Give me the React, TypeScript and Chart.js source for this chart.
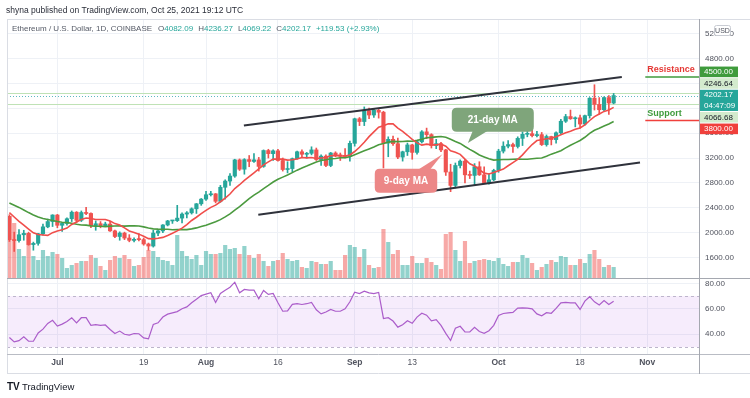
import React, { useEffect, useRef } from 'react';
import { Chart, registerables } from 'chart.js';

Chart.register(...registerables);

// ---------------- data (day 0 = 1 Jul 2021, first candle = 21 Jun 2021) ----------------
const FIRST_DAY = -10;

const OPEN = [
  2263, 1889, 1875, 1968, 1990, 1810, 1830, 1985, 2095, 2180,
  2285, 2120, 2150, 2225, 2330, 2200, 2325, 2310, 2115, 2145, 2115, 2140, 2030, 1940, 1995, 1915, 1878, 1895, 1890, 1820, 1787, 1995, 2030, 2125, 2190, 2195, 2235, 2300, 2320, 2385, 2465,
  2540, 2610, 2625, 2505, 2730, 2830, 2910, 3170, 3020, 3175, 3145, 3170, 3065, 3320, 3270, 3315, 3160, 3015, 3030, 3190, 3300, 3260, 3275, 3330, 3175, 3230, 3080, 3280, 3250, 3230, 3225,
  3435, 3830, 3785, 3960, 3890, 3965, 3935, 3440, 3500, 3430, 3215, 3300, 3410, 3290, 3460, 3620, 3575, 3400, 3430, 3330, 2975, 2760, 3080, 3150, 2930, 2920, 3060, 2930, 2805, 2850,
  3000, 3310, 3390, 3415, 3385, 3515, 3580, 3590, 3560, 3575, 3415, 3545, 3495, 3605, 3790, 3865, 3830, 3845, 3745, 3880, 4160, 4060, 3975, 4170, 4082.09,
];
const HIGH = [
  2290, 2010, 2050, 2040, 2010, 1850, 1990, 2140, 2220, 2290,
  2295, 2160, 2240, 2350, 2340, 2350, 2410, 2320, 2190, 2180, 2170, 2185, 2045, 2015, 2010, 1970, 1920, 1985, 1915, 1835, 2040, 2045, 2130, 2200, 2200, 2440, 2320, 2340, 2400, 2470, 2550,
  2665, 2665, 2630, 2760, 2850, 2950, 3180, 3185, 3190, 3240, 3270, 3210, 3330, 3340, 3330, 3340, 3200, 3140, 3200, 3310, 3330, 3290, 3380, 3360, 3250, 3250, 3290, 3300, 3280, 3350, 3470,
  3840, 3850, 4020, 4000, 3990, 3980, 3950, 3540, 3550, 3520, 3310, 3440, 3420, 3480, 3640, 3680, 3590, 3500, 3450, 3340, 3100, 3120, 3170, 3180, 2990, 3110, 3140, 3060, 2950, 3020,
  3340, 3460, 3480, 3440, 3540, 3620, 3640, 3670, 3630, 3610, 3570, 3550, 3620, 3820, 3900, 3970, 3860, 3890, 3890, 4170, 4376, 4170, 4180, 4200, 4236.27,
];
const LOW = [
  1860, 1700, 1850, 1880, 1800, 1720, 1800, 1960, 2080, 2100,
  2080, 2020, 2120, 2180, 2160, 2180, 2290, 2080, 2040, 2080, 2100, 2020, 1920, 1880, 1890, 1855, 1855, 1870, 1800, 1720, 1770, 1955, 2000, 2110, 2150, 2180, 2160, 2240, 2300, 2310, 2440,
  2520, 2590, 2480, 2490, 2540, 2760, 2890, 3000, 2940, 3060, 3130, 2990, 3050, 3200, 3160, 3150, 2990, 2960, 2980, 3180, 3220, 3200, 3250, 3160, 3080, 3060, 3060, 3220, 3160, 3200, 3150,
  3390, 3720, 3720, 3830, 3850, 3840, 3040, 3220, 3400, 3190, 3150, 3240, 3180, 3260, 3440, 3510, 3360, 3350, 3300, 2920, 2660, 2720, 3040, 2800, 2870, 2760, 2920, 2790, 2780, 2835,
  2970, 3280, 3360, 3290, 3360, 3400, 3540, 3540, 3540, 3400, 3390, 3410, 3440, 3590, 3770, 3820, 3700, 3680, 3725, 3840, 3970, 3900, 3950, 3900, 4069.22,
];
const CLOSE = [
  1889, 1875, 1968, 1990, 1810, 1830, 1985, 2095, 2180, 2285,
  2120, 2150, 2225, 2330, 2200, 2325, 2310, 2115, 2145, 2115, 2140, 2030, 1940, 1995, 1915, 1878, 1895, 1890, 1820, 1787, 1995, 2030, 2125, 2190, 2195, 2235, 2300, 2320, 2385, 2465, 2540,
  2610, 2625, 2505, 2730, 2830, 2910, 3170, 3020, 3175, 3145, 3170, 3065, 3320, 3270, 3315, 3160, 3015, 3030, 3190, 3300, 3260, 3275, 3330, 3175, 3230, 3080, 3280, 3250, 3230, 3225, 3435,
  3830, 3785, 3960, 3890, 3965, 3935, 3440, 3500, 3430, 3215, 3300, 3410, 3290, 3460, 3620, 3575, 3400, 3430, 3330, 2975, 2760, 3080, 3150, 2930, 2920, 3060, 2930, 2805, 2850, 3000,
  3310, 3390, 3415, 3385, 3515, 3580, 3590, 3560, 3575, 3415, 3545, 3495, 3605, 3790, 3865, 3830, 3845, 3745, 3880, 4160, 4060, 3975, 4170, 4082.64, 4202.17,
];
// volume, thousand ETH
const VOLUME = [
  620, 550, 290, 220, 450, 220, 180, 280, 220, 260,
  240, 200, 100, 130, 150, 170, 170, 230, 200, 120, 80, 180, 220, 200, 230, 190, 120, 130, 210, 280, 270, 210, 180, 170, 130, 430, 270, 220, 190, 230, 130,
  270, 240, 240, 250, 330, 290, 300, 240, 320, 230, 200, 240, 170, 120, 170, 180, 250, 190, 170, 180, 110, 100, 170, 160, 140, 140, 170, 80, 80, 230, 330,
  310, 210, 290, 130, 100, 110, 490, 360, 240, 280, 130, 130, 220, 150, 150, 200, 160, 130, 90, 440, 460, 280, 170, 370, 150, 170, 180, 190, 180, 170,
  200, 140, 120, 160, 160, 230, 200, 150, 80, 110, 140, 180, 160, 220, 210, 130, 130, 190, 150, 240, 280, 190, 110, 130, 110,
];
const MA9 = [
  2323, 2253, 2184, 2122, 2060, 2000, 1972, 1965, 1958, 2002,
  2029, 2049, 2076, 2133, 2174, 2212, 2236, 2229, 2213, 2213, 2212, 2190, 2147, 2124, 2078, 2030, 2006, 1978, 1945, 1906, 1902, 1912, 1926, 1957, 1992, 2030, 2075, 2131, 2197, 2249, 2306,
  2360, 2408, 2443, 2498, 2557, 2622, 2709, 2771, 2842, 2901, 2962, 3024, 3089, 3138, 3183, 3182, 3182, 3166, 3171, 3185, 3207, 3202, 3208, 3193, 3201, 3208, 3236, 3242, 3234, 3231, 3248,
  3304, 3372, 3453, 3543, 3619, 3695, 3718, 3749, 3748, 3680, 3626, 3565, 3498, 3442, 3407, 3422, 3411, 3411, 3424, 3388, 3316, 3292, 3258, 3181, 3108, 3071, 3015, 2957, 2943, 2969,
  2995, 3022, 3076, 3127, 3178, 3250, 3337, 3416, 3480, 3492, 3509, 3518, 3542, 3573, 3604, 3631, 3663, 3682, 3733, 3802, 3864, 3906, 3948, 3972, 4013,
];
const MA21 = [
  2479, 2443, 2407, 2366, 2324, 2286, 2252, 2228, 2212, 2197,
  2180, 2170, 2163, 2154, 2136, 2125, 2123, 2110, 2106, 2104, 2099, 2106, 2109, 2110, 2107, 2110, 2113, 2108, 2095, 2077, 2063, 2059, 2057, 2056, 2049, 2051, 2050, 2050, 2063, 2078, 2099,
  2121, 2149, 2176, 2211, 2255, 2304, 2365, 2418, 2483, 2548, 2604, 2653, 2710, 2761, 2815, 2859, 2893, 2926, 2965, 3005, 3039, 3070, 3104, 3136, 3160, 3172, 3189, 3193, 3203, 3206, 3219,
  3251, 3285, 3315, 3345, 3376, 3413, 3433, 3455, 3467, 3463, 3465, 3471, 3469, 3483, 3501, 3525, 3531, 3539, 3544, 3532, 3500, 3464, 3434, 3385, 3339, 3296, 3248, 3218, 3187, 3166,
  3171, 3175, 3175, 3180, 3182, 3180, 3181, 3189, 3196, 3200, 3227, 3262, 3287, 3317, 3362, 3405, 3443, 3481, 3533, 3595, 3645, 3677, 3714, 3746, 3785,
];
const RSI = [
  37.5, 34, 35, 38, 34.5, 34.5, 41, 44, 48.5, 51,
  46.4, 48, 50, 53, 49, 53, 53, 47, 47.5, 47, 47.3, 43.8, 40.6, 42.5, 40, 39.3, 40.6, 40.4, 37.2, 36.4, 47.7, 49, 53.5, 55.8, 56.8, 57.8, 60, 61.5, 64.7, 67.5, 70.4,
  71.5, 72.6, 65, 72, 74.5, 77, 80.9, 72.6, 75.2, 74.7, 74.7, 67.8, 74.4, 71.3, 72, 64.7, 58.1, 58.3, 63.5, 64, 63.4, 64, 65, 59.2, 56, 57.5, 59.5, 58.1, 58.1, 60, 65.5,
  73.1, 72, 73.8, 72.5, 72, 72.8, 52.4, 53, 50.4, 45.6, 47.5, 50.6, 48.6, 53.5, 56.5, 55, 50.6, 51.5, 47, 40.7, 35.1, 44.7, 46.3, 41.8, 41.8, 45.4, 42.2, 40.8, 42.8, 47,
  54.7, 56.3, 56.8, 57.2, 60.5, 60.8, 60.6, 60, 56, 54.5, 57, 56.5, 60.3, 64.7, 65, 64.7, 64.7, 59.5, 66, 69.5, 65.5, 63, 66.5, 63.4, 66,
];

const TIME_TICKS = [0, 18, 31, 46, 62, 74, 92, 109, 123];
const TIME_LABELS = ['Jul', '19', 'Aug', '16', 'Sep', '13', 'Oct', '18', 'Nov'];
const PRICE_TICKS = [1600, 2000, 2400, 2800, 3200, 3600, 4000, 4400, 4800, 5200];
const RSI_TICKS = [40, 60, 80];
const RSI_BAND = [30, 70];

const RESISTANCE = 4500;
const SUPPORT = 3800;
const RANGE_HIGH = 4246.64;
const RANGE_LOW = 4066.68;
const COUNTDOWN = '04:47:09';
const CHANNEL_UPPER = [{ x: 38.9, y: 3723 }, { x: 117.7, y: 4500 }];
const CHANNEL_LOWER = [{ x: 41.9, y: 2290 }, { x: 121.5, y: 3129 }];
const LEVEL_START = 122.6;

const HEADER_1 = 'shyna published on TradingView.com, Oct 25, 2021 19:12 UTC';
const SYMBOL = 'Ethereum / U.S. Dollar, 1D, COINBASE';

// view ranges
const X_MIN = -10.5;
const X_MAX = 133.8;
const PRICE_MIN = 1274;
const PRICE_MAX = 5431;
const RSI_MIN = 24.5;
const RSI_MAX = 84.2;
const VOL_MIN = -757;
const VOL_MAX = 2593;

// ---------------- style ----------------
const FONT = '"Liberation Sans", Arial, sans-serif';
const TEAL = '#26a69a';
const RED = '#ef5350';
const GRID = '#eef1f6';
const AXIS_TEXT = '#50535e';

const CALLOUTS = [
  { text: '21-day MA', day: 90.8, price: 3815, tipDay: 85.6, tipPrice: 3440, bg: '#7fa57b', edge: 'bottom', base: [-20, -5], pad: 16 },
  { text: '9-day MA', day: 72.7, price: 2836, tipDay: 80.3, tipPrice: 3261, bg: '#ec8787', edge: 'top', base: [12, 24], pad: 9 },
];

function roundRect(ctx: any, x: number, y: number, w: number, h: number, r: number) {
  ctx.beginPath();
  ctx.moveTo(x + r, y);
  ctx.lineTo(x + w - r, y);
  ctx.quadraticCurveTo(x + w, y, x + w, y + r);
  ctx.lineTo(x + w, y + h - r);
  ctx.quadraticCurveTo(x + w, y + h, x + w - r, y + h);
  ctx.lineTo(x + r, y + h);
  ctx.quadraticCurveTo(x, y + h, x, y + h - r);
  ctx.lineTo(x, y + r);
  ctx.quadraticCurveTo(x, y, x + r, y);
  ctx.closePath();
}

const overlayPlugin = {
  id: 'tvOverlay',
  beforeDraw(chart: any) {
    const { ctx, width, height } = chart;
    ctx.save();
    ctx.fillStyle = '#ffffff';
    ctx.fillRect(0, 0, width, height);
    ctx.restore();
  },
  beforeDatasetsDraw(chart: any) {
    const { ctx, chartArea } = chart;
    const { left, right } = chartArea;
    const r = chart.scales.rsi;
    const y = chart.scales.y;
    ctx.save();
    const bandTop = r.getPixelForValue(RSI_BAND[1]);
    const bandBot = r.getPixelForValue(RSI_BAND[0]);
    ctx.fillStyle = 'rgba(150, 40, 220, 0.085)';
    ctx.fillRect(left, bandTop, right - left, bandBot - bandTop);
    ctx.lineWidth = 1;
    ctx.strokeStyle = '#bdb5cc';
    ctx.setLineDash([3, 3]);
    for (const v of RSI_BAND) {
      const py = Math.round(r.getPixelForValue(v)) + 0.5;
      ctx.beginPath(); ctx.moveTo(left, py); ctx.lineTo(right, py); ctx.stroke();
    }
    ctx.setLineDash([]);
    ctx.strokeStyle = '#bfe2b6';
    for (const v of [RANGE_HIGH, RANGE_LOW]) {
      const py = Math.round(y.getPixelForValue(v)) + 0.5;
      ctx.beginPath(); ctx.moveTo(left, py); ctx.lineTo(right, py); ctx.stroke();
    }
    const last = CLOSE[CLOSE.length - 1];
    ctx.strokeStyle = '#5fb8c0';
    ctx.setLineDash([1, 2]);
    const lp = Math.round(y.getPixelForValue(last)) + 0.5;
    ctx.beginPath(); ctx.moveTo(left, lp); ctx.lineTo(right, lp); ctx.stroke();
    ctx.restore();
  },
  afterDraw(chart: any) {
    const { ctx, chartArea } = chart;
    const { left, right, top, bottom } = chartArea;
    const W = chart.width;
    const xS = chart.scales.x;
    const yS = chart.scales.y;
    const n = CLOSE.length;
    ctx.save();

    const hline = (x1: number, x2: number, yy: number, c: string) => {
      ctx.strokeStyle = c; ctx.lineWidth = 1;
      ctx.beginPath(); ctx.moveTo(x1, yy); ctx.lineTo(x2, yy); ctx.stroke();
    };
    const vline = (xx: number, y1: number, y2: number, c: string) => {
      ctx.strokeStyle = c; ctx.lineWidth = 1;
      ctx.beginPath(); ctx.moveTo(xx, y1); ctx.lineTo(xx, y2); ctx.stroke();
    };
    const axisBottom = xS.bottom;
    // frame & separators
    hline(left, W, top + 0.5, '#dadde4');
    vline(left + 0.5, top, axisBottom + 1, '#dadde4');
    hline(left, W, axisBottom + 0.5, '#dadde4');
    hline(left, W, Math.round(yS.bottom) + 0.5, '#a5a8b0');
    hline(left, W, bottom + 0.5, '#b9bcc4');
    vline(right + 0.5, top, axisBottom + 1, '#a5a8b0');

    // callouts
    ctx.font = `bold 10px ${FONT}`;
    ctx.textAlign = 'center';
    ctx.textBaseline = 'middle';
    for (const c of CALLOUTS) {
      const cx = xS.getPixelForValue(c.day);
      const cy = yS.getPixelForValue(c.price);
      const tw = ctx.measureText(c.text).width;
      const w = tw + 2 * c.pad;
      const h = 24;
      const bx = cx - w / 2;
      const by = cy - h / 2;
      ctx.fillStyle = c.bg;
      roundRect(ctx, bx, by, w, h, 5);
      ctx.fill();
      const ey = c.edge === 'bottom' ? by + h - 1 : by + 1;
      ctx.beginPath();
      ctx.moveTo(cx + c.base[0], ey);
      ctx.lineTo(xS.getPixelForValue(c.tipDay), yS.getPixelForValue(c.tipPrice));
      ctx.lineTo(cx + c.base[1], ey);
      ctx.closePath();
      ctx.fill();
      ctx.fillStyle = '#ffffff';
      ctx.fillText(c.text, cx, cy + 0.5);
    }

    // Resistance / Support texts
    ctx.textAlign = 'left';
    ctx.font = `bold 9px ${FONT}`;
    const lx = xS.getPixelForValue(LEVEL_START) + 2;
    ctx.fillStyle = '#e53935';
    ctx.fillText('Resistance', lx, yS.getPixelForValue(RESISTANCE) - 7);
    ctx.fillStyle = '#3f9b3c';
    ctx.fillText('Support', lx, yS.getPixelForValue(SUPPORT) - 7.5);

    // price-scale labels with collision avoidance
    const last = CLOSE[n - 1];
    const items: any[] = [
      { v: RESISTANCE, lines: [RESISTANCE.toFixed(2)], bg: '#3f9b3c', fg: '#ffffff' },
      { v: RANGE_HIGH, lines: [RANGE_HIGH.toFixed(2)], bg: '#d3ebcd', fg: '#131722' },
      { v: last, lines: [last.toFixed(2), COUNTDOWN], bg: TEAL, fg: '#ffffff', anchor: true },
      { v: RANGE_LOW, lines: [RANGE_LOW.toFixed(2)], bg: '#d3ebcd', fg: '#131722' },
      { v: SUPPORT, lines: [SUPPORT.toFixed(2)], bg: '#f0403c', fg: '#ffffff' },
    ].map((it) => ({ ...it, py: yS.getPixelForValue(it.v), h: it.lines.length * 10.6 }));
    items.sort((a, b) => a.py - b.py);
    const ai = items.findIndex((it) => it.anchor);
    items[ai].top = items[ai].py - 5.8;
    for (let i = ai - 1; i >= 0; i--) {
      const b = Math.min(items[i].py + items[i].h / 2, items[i + 1].top - 1);
      items[i].top = b - items[i].h;
    }
    for (let i = ai + 1; i < items.length; i++) {
      const pb = items[i - 1].top + items[i - 1].h;
      items[i].top = Math.max(items[i].py - items[i].h / 2, pb + 1);
    }
    ctx.font = `8px ${FONT}`;
    ctx.textBaseline = 'middle';
    for (const it of items) {
      ctx.fillStyle = it.bg;
      ctx.fillRect(right + 1, it.top, 38, it.h);
      ctx.fillStyle = it.fg;
      it.lines.forEach((t: string, k: number) => ctx.fillText(t, right + 5, it.top + 5.5 + k * 10.6));
    }

    // USD box
    ctx.fillStyle = '#ffffff';
    roundRect(ctx, 714.5, 25.5, 16, 10, 2);
    ctx.fill();
    ctx.strokeStyle = '#c9ccd3';
    ctx.stroke();
    ctx.fillStyle = '#50535e';
    ctx.font = `7px ${FONT}`;
    ctx.textAlign = 'center';
    ctx.fillText('USD', 722.5, 31);

    // header
    ctx.textAlign = 'left';
    ctx.textBaseline = 'middle';
    ctx.font = `8.5px ${FONT}`;
    ctx.fillStyle = '#2a2e39';
    ctx.fillText(HEADER_1, 6, 11);

    ctx.font = `8px ${FONT}`;
    let hx = 12;
    const hy = 29;
    const seg = (t: string, c: string) => {
      ctx.fillStyle = c;
      ctx.fillText(t, hx, hy);
      hx += ctx.measureText(t).width;
    };
    const grey = '#555a66';
    const chg = CLOSE[n - 1] - CLOSE[n - 2];
    const pct = (chg / CLOSE[n - 2]) * 100;
    seg(SYMBOL, grey);
    hx += 6; seg('O', grey); seg(OPEN[n - 1].toFixed(2), TEAL);
    hx += 5; seg('H', grey); seg(HIGH[n - 1].toFixed(2), TEAL);
    hx += 5; seg('L', grey); seg(LOW[n - 1].toFixed(2), TEAL);
    hx += 5; seg('C', grey); seg(CLOSE[n - 1].toFixed(2), TEAL);
    hx += 5; seg(`+${chg.toFixed(2)} (+${pct.toFixed(2)}%)`, TEAL);

    // TradingView logo
    ctx.fillStyle = '#131722';
    ctx.font = `bold 10px ${FONT}`;
    ctx.fillText('TV', 7, 387);
    ctx.font = `9.5px ${FONT}`;
    ctx.fillText('TradingView', 22, 387);

    ctx.restore();
  },
};

export default function App() {
  const ref = useRef<HTMLCanvasElement>(null);

  useEffect(() => {
    const canvas = ref.current;
    if (!canvas) return;
    const xs = CLOSE.map((_, i) => FIRST_DAY + i);
    const rising = CLOSE.map((c, i) => c >= OPEN[i]);
    const candleColors = rising.map((u) => (u ? TEAL : RED));
    const volColors = rising.map((u) => (u ? 'rgba(38,166,154,0.5)' : 'rgba(239,83,80,0.5)'));

    const lineBase = { type: 'line', pointRadius: 0, pointHoverRadius: 0, tension: 0, fill: false, yAxisID: 'y' };

    const chart = new Chart(canvas, {
      type: 'bar',
      data: {
        datasets: [
          { ...lineBase, label: 'channel top', data: CHANNEL_UPPER, borderColor: '#2f323b', borderWidth: 2, order: 0 },
          { ...lineBase, label: 'channel bottom', data: CHANNEL_LOWER, borderColor: '#2f323b', borderWidth: 2, order: 0 },
          { ...lineBase, label: 'resistance', data: [{ x: LEVEL_START, y: RESISTANCE }, { x: X_MAX, y: RESISTANCE }], borderColor: '#3f9b3c', borderWidth: 1.5, order: 0 },
          { ...lineBase, label: 'support', data: [{ x: LEVEL_START, y: SUPPORT }, { x: X_MAX, y: SUPPORT }], borderColor: '#f0403c', borderWidth: 1.5, order: 0 },
          { ...lineBase, label: '9-day MA', data: xs.map((x, i) => ({ x, y: MA9[i] })), borderColor: '#f04e4b', borderWidth: 1.6, order: 1 },
          { ...lineBase, label: '21-day MA', data: xs.map((x, i) => ({ x, y: MA21[i] })), borderColor: '#4b9a3f', borderWidth: 1.6, order: 1 },
          { ...lineBase, label: 'RSI', yAxisID: 'rsi', data: xs.map((x, i) => ({ x, y: RSI[i] })), borderColor: '#ab5dca', borderWidth: 1.2, order: 1 },
          {
            type: 'bar', label: 'body', yAxisID: 'y', grouped: false, barThickness: 3.5, minBarLength: 1,
            data: xs.map((x, i) => ({ x, y: [OPEN[i], CLOSE[i]] })),
            backgroundColor: candleColors, borderWidth: 0, order: 2,
          },
          {
            type: 'bar', label: 'wick', yAxisID: 'y', grouped: false, barThickness: 1,
            data: xs.map((x, i) => ({ x, y: [LOW[i], HIGH[i]] })),
            backgroundColor: candleColors, borderWidth: 0, order: 3,
          },
          {
            type: 'bar', label: 'volume', yAxisID: 'vol', grouped: false, barThickness: 3.5,
            data: xs.map((x, i) => ({ x, y: VOLUME[i] })),
            backgroundColor: volColors, borderWidth: 0, order: 4,
          },
        ] as any,
      },
      options: {
        animation: false,
        responsive: false,
        maintainAspectRatio: false,
        events: [],
        layout: { padding: { left: 7, top: 19, right: 0, bottom: 25 } },
        plugins: { legend: { display: false }, tooltip: { enabled: false } },
        scales: {
          x: {
            type: 'linear', min: X_MIN, max: X_MAX, offset: false,
            afterBuildTicks: (s: any) => { s.ticks = TIME_TICKS.map((v) => ({ value: v })); },
            afterFit: (s: any) => { s.height = 19; },
            grid: { color: GRID, drawTicks: false, offset: false },
            border: { display: false },
            ticks: {
              autoSkip: false, maxRotation: 0, padding: 4, color: AXIS_TEXT,
              callback: (_v: any, i: number) => TIME_LABELS[i],
              font: (c: any) => ({ family: FONT, size: 8.5, weight: /^[A-Z]/.test(TIME_LABELS[c.index] || '') ? 'bold' : 'normal' }),
            },
          },
          y: {
            type: 'linear', position: 'right', stack: 'panes', stackWeight: 259,
            min: PRICE_MIN, max: PRICE_MAX,
            afterBuildTicks: (s: any) => { s.ticks = PRICE_TICKS.map((v) => ({ value: v })); },
            afterFit: (s: any) => { s.width = 51; },
            grid: { color: GRID, drawTicks: false },
            border: { display: false },
            ticks: { autoSkip: false, padding: 6, color: AXIS_TEXT, font: { family: FONT, size: 8 }, callback: (v: any) => Number(v).toFixed(2) },
          },
          rsi: {
            type: 'linear', position: 'right', stack: 'panes', stackWeight: 76,
            min: RSI_MIN, max: RSI_MAX,
            afterBuildTicks: (s: any) => { s.ticks = RSI_TICKS.map((v) => ({ value: v })); },
            afterFit: (s: any) => { s.width = 51; },
            grid: { color: GRID, drawTicks: false },
            border: { display: false },
            ticks: { autoSkip: false, padding: 6, color: AXIS_TEXT, font: { family: FONT, size: 8 }, callback: (v: any) => Number(v).toFixed(2) },
          },
          vol: {
            type: 'linear', position: 'right', display: false, min: VOL_MIN, max: VOL_MAX,
          },
        },
      } as any,
      plugins: [overlayPlugin],
    } as any);

    return () => chart.destroy();
  }, []);

  return (
    <canvas
      ref={ref}
      width={750}
      height={398}
      style={{ position: 'fixed', left: 0, top: 0, width: 750, height: 398, display: 'block' }}
    />
  );
}
